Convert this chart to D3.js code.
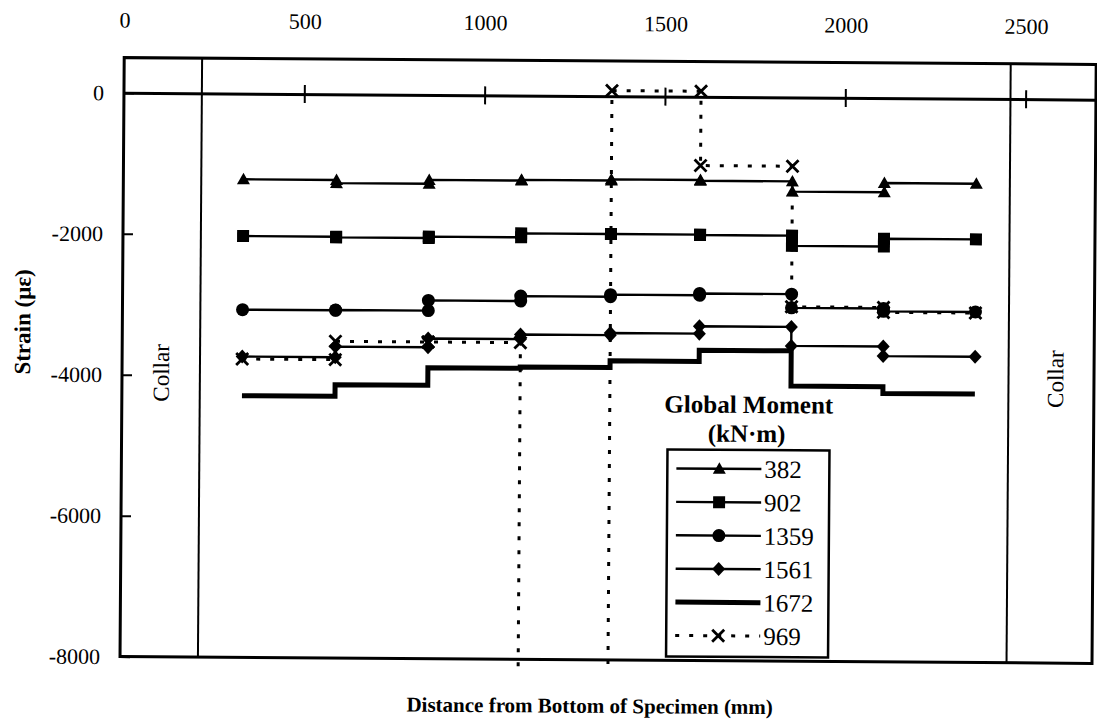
<!DOCTYPE html>
<html>
<head>
<meta charset="utf-8">
<script src="https://cdn.jsdelivr.net/npm/d3@7"></script>
<style>
  html, body { margin: 0; padding: 0; background: #fff; }
  svg { display: block; }
  text { font-family: "Liberation Serif", "Times New Roman", serif; fill: #000; }
  .title { font-weight: bold; }
</style>
</head>
<body>
<svg id="chart" width="1097" height="727"></svg>
<script>
// Gauge stations along the specimen (mm); each series holds one strain value per gauge segment.
const stations = [333, 591, 848, 1104, 1353, 1600, 1855, 2110, 2365];
const collarPositions = [216, 2458];

const seriesNames = ["382", "902", "1359", "1561", "1672", "969"];
const strain382  = [-1215, -1260, -1205, -1195, -1180, -1190, -1335, -1205];
const strain902  = [-2020, -2030, -2010, -1955, -1955, -1960, -2105, -1995];
const strain1359 = [-3065, -3060, -2915, -2845, -2815, -2790, -2985, -3025];
const strain1561 = [-3730, -3580, -3455, -3390, -3360, -3255, -3525, -3660];
const strain1672 = [-4285, -4120, -3870, -3850, -3755, -3595, -4095, -4190];
const strain969  = [-3765, -3505, -3505, -9000, 80, -975, -2970, -3040];

const xTickValues = [0, 500, 1000, 1500, 2000, 2500];
const yTickValues = [0, -2000, -4000, -6000, -8000];

const seriesValues = [strain382, strain902, strain1359, strain1561, strain1672, strain969];
const seriesStyle = {
  "382":  { marker: "triangle", width: 2.4 },
  "902":  { marker: "square",   width: 2.4 },
  "1359": { marker: "circle",   width: 2.4 },
  "1561": { marker: "diamond",  width: 2.4 },
  "1672": { marker: null,       width: 5 },
  "969":  { marker: "cross",    width: 3, dash: "4,10" }
};

const svg = d3.select("#chart");
const plotL = 122, plotR = 1094, plotT = 61, plotB = 660;

const x = d3.scaleLinear().domain([0, 2695]).range([plotL, plotR]);
const y = d3.scaleLinear().domain([-8000, 500]).range([plotB, plotT]);

// whole sheet sits at a very slight angle
const root = svg.append("g").attr("transform", "rotate(0.4, 608, 376)");

// plot frame
root.append("rect")
  .attr("x", plotL).attr("y", plotT)
  .attr("width", plotR - plotL).attr("height", plotB - plotT)
  .attr("fill", "none").attr("stroke", "#000").attr("stroke-width", 3);

// collar boundaries
root.selectAll("line.collar").data(collarPositions).join("line")
  .attr("class", "collar")
  .attr("x1", d => x(d)).attr("x2", d => x(d))
  .attr("y1", plotT).attr("y2", plotB)
  .attr("stroke", "#000").attr("stroke-width", 2);

// Collar labels between frame and collar line
const collarLabelX = [(plotL + x(collarPositions[0])) / 2, (x(collarPositions[1]) + plotR) / 2 + 4];
collarLabelX.forEach(cx => {
  root.append("text")
    .attr("transform", `translate(${cx + 8},376) rotate(-90)`)
    .attr("text-anchor", "middle")
    .style("font-size", "23px")
    .text("Collar");
});

// zero-strain axis with crossing ticks
const zeroAxis = root.append("g")
  .attr("transform", `translate(0,${y(0)})`)
  .call(d3.axisBottom(x).tickValues(xTickValues.slice(1)).tickSizeInner(9).tickSizeOuter(0).tickFormat(""));
zeroAxis.select(".domain").attr("stroke-width", 3);
zeroAxis.selectAll(".tick line").attr("y1", -9).attr("y2", 9).attr("stroke-width", 2);

// distance labels along the top
const topAxis = root.append("g")
  .attr("transform", "translate(0,34)")
  .call(d3.axisTop(x).tickValues(xTickValues).tickSize(0).tickPadding(3).tickFormat(d => String(d)));
topAxis.select(".domain").remove();
topAxis.attr("font-family", null).attr("font-size", null);
topAxis.selectAll("text").style("font-size", "22px");

// strain axis
const yAxis = root.append("g")
  .attr("transform", `translate(${plotL},0)`)
  .call(d3.axisLeft(y).tickValues(yTickValues).tickSizeInner(-10).tickSizeOuter(0).tickPadding(20)
    .tickFormat(d => String(d)));
yAxis.select(".domain").remove();
yAxis.attr("font-family", null).attr("font-size", null);
yAxis.selectAll(".tick line").attr("stroke-width", 2);
yAxis.selectAll("text").style("font-size", "22px");

// axis titles
root.append("text")
  .attr("class", "title")
  .attr("x", 592).attr("y", 713)
  .attr("text-anchor", "middle")
  .style("font-size", "21px")
  .text("Distance from Bottom of Specimen (mm)");

root.append("text")
  .attr("class", "title")
  .attr("transform", "translate(30,326) rotate(-90)")
  .attr("text-anchor", "middle")
  .style("font-size", "23px")
  .text("Strain (με)");

// marker shapes
function markerPath(type) {
  switch (type) {
    case "triangle": return "M0,-6.5L6.5,5L-6.5,5Z";
    case "square":   return "M-6,-6H6V6H-6Z";
    case "circle":   return d3.arc()({innerRadius: 0, outerRadius: 6.5, startAngle: 0, endAngle: 2 * Math.PI});
    case "diamond":  return "M0,-7L6.5,0L0,7L-6.5,0Z";
    case "cross":    return "M-6,-6L6,6M-6,6L6,-6";
  }
  return null;
}
function drawMarker(sel, type) {
  const p = sel.append("path").attr("d", markerPath(type));
  if (type === "cross") p.attr("fill", "none").attr("stroke", "#000").attr("stroke-width", 2.8);
  else p.attr("fill", "#000");
  return p;
}

// clip data to the plot area (open slightly below the frame)
svg.append("defs").append("clipPath").attr("id", "plotClip")
  .append("rect").attr("x", plotL).attr("y", plotT).attr("width", plotR - plotL).attr("height", plotB - plotT + 12);

const plot = root.append("g").attr("clip-path", "url(#plotClip)");

const line = d3.line().x(d => x(d[0])).y(d => y(d[1]));

seriesNames.forEach((name, si) => {
  const vals = seriesValues[si];
  // each gauge segment spans two stations at a constant strain
  const pts = [];
  vals.forEach((v, i) => { pts.push([stations[i], v]); pts.push([stations[i + 1], v]); });
  const st = seriesStyle[name];
  const g = plot.append("g");
  g.append("path")
    .attr("d", line(pts))
    .attr("fill", "none").attr("stroke", "#000")
    .attr("stroke-width", st.width)
    .attr("stroke-dasharray", st.dash || null);
  if (st.marker) {
    pts.forEach(p => {
      drawMarker(g, st.marker).attr("transform", `translate(${x(p[0])},${y(p[1])})`);
    });
  }
});

// legend
const legend = root.append("g");
const legendBox = { x0: 668, x1: 830, y0: 449, y1: 656 };
const legendCx = (legendBox.x0 + legendBox.x1) / 2;
legend.append("text").attr("x", legendCx).attr("y", 412).attr("text-anchor", "middle")
  .style("font-size", "25px").style("font-weight", "bold").text("Global Moment");
legend.append("text").attr("x", legendCx - 2).attr("y", 441).attr("text-anchor", "middle")
  .style("font-size", "25px").style("font-weight", "bold").text("(kN·m)");
legend.append("rect")
  .attr("x", legendBox.x0).attr("y", legendBox.y0)
  .attr("width", legendBox.x1 - legendBox.x0).attr("height", legendBox.y1 - legendBox.y0)
  .attr("fill", "#fff").attr("stroke", "#000").attr("stroke-width", 2.5);

const rowY = d3.scalePoint().domain(seriesNames).range([468, 635]);
seriesNames.forEach(name => {
  const st = seriesStyle[name];
  const ry = rowY(name);
  const row = legend.append("g").attr("transform", `translate(0,${ry})`);
  row.append("line").attr("x1", 677).attr("x2", 762).attr("y1", 0).attr("y2", 0)
    .attr("stroke", "#000").attr("stroke-width", st.width)
    .attr("stroke-dasharray", st.dash || null);
  if (st.marker) drawMarker(row, st.marker).attr("transform", "translate(720,0)");
  row.append("text").attr("x", 765).attr("y", 0).attr("dy", "0.35em")
    .style("font-size", "25px").text(name);
});
</script>
</body>
</html>
